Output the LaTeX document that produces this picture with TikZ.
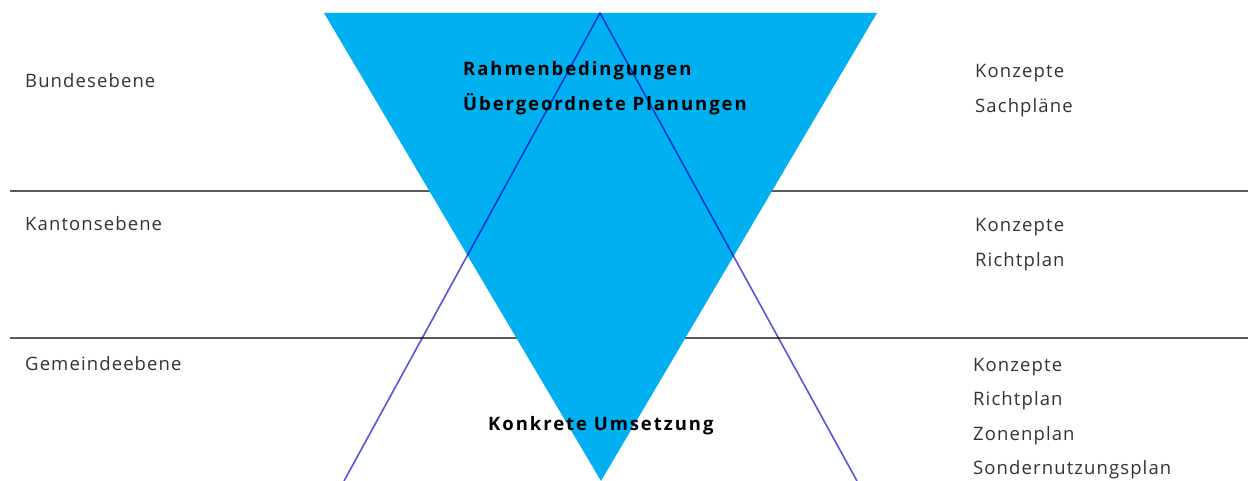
\documentclass[tikz,border=0pt]{standalone}
\usepackage{fontspec}
\setmainfont{Open Sans}
\newfontfamily\planfont[LetterSpace=6,BoldFeatures={LetterSpace=10.5}]{Open Sans}
\usetikzlibrary{positioning}
\definecolor{funnelblue}{HTML}{00B0F0}
\definecolor{pyramidline}{HTML}{5555DD}
\definecolor{rulegray}{HTML}{595959}

\begin{document}
\begin{tikzpicture}[x=1pt,y=-1pt,
  level/.style={anchor=base west,inner sep=0pt,text=black!80,
    font=\planfont\fontsize{18.5}{22}\selectfont},
  head/.style={anchor=base west,inner sep=0pt,
    font=\planfont\bfseries\fontsize{18.5}{22}\selectfont},
  rule/.style={draw=rulegray,line width=2pt},
  pyramid/.style={draw=pyramidline,line width=1.6pt,line join=round}
]
\useasboundingbox (0,0) rectangle (1252,481);
% level separators
\draw[rule] (10,191) -- (1248,191);
\draw[rule] (10,338) -- (1248,338);
% funnel and pyramid
\coordinate (ftl) at (324,13);
\coordinate (ftr) at (877,13);
\coordinate (fbot) at (601,481);
\fill[funnelblue] (ftl) -- (ftr) -- (fbot) -- cycle;
\coordinate (ptop) at (600,13);
\coordinate (pleft) at (344,481);
\coordinate (pright) at (857,481);
\begin{scope}[blend mode=multiply]
\draw[pyramid] (pleft) -- (ptop) -- (pright);
\end{scope}
% levels
\node[level] (bund) at (25,87.5) {Bundesebene};
\node[level] (kanton) at (25,230.5) {Kantonsebene};
\node[level] (gemeinde) at (25,370.5) {Gemeindeebene};
% centre
\node[head] (rahmen) at (463,76) {Rahmenbedingungen};
\node[head] (uebergeord) at (463,110.5) {Übergeordnete Planungen};
\node[head] (umsetzung) at (488,430.5) {Konkrete Umsetzung};
% instruments
\node[level] (bkonz) at (975,77.5) {Konzepte};
\node[level] (bsach) at (975,112.5) {Sachpläne};
\node[level] (kkonz) at (975,231.5) {Konzepte};
\node[level] (krich) at (975,266) {Richtplan};
\node[level] (gkonz) at (973,371.5) {Konzepte};
\node[level] (grich) at (973,405.5) {Richtplan};
\node[level] (gzone) at (973,440) {Zonenplan};
\node[level] (gsnp) at (973,474.5) {Sondernutzungsplan};
\end{tikzpicture}
\end{document}
